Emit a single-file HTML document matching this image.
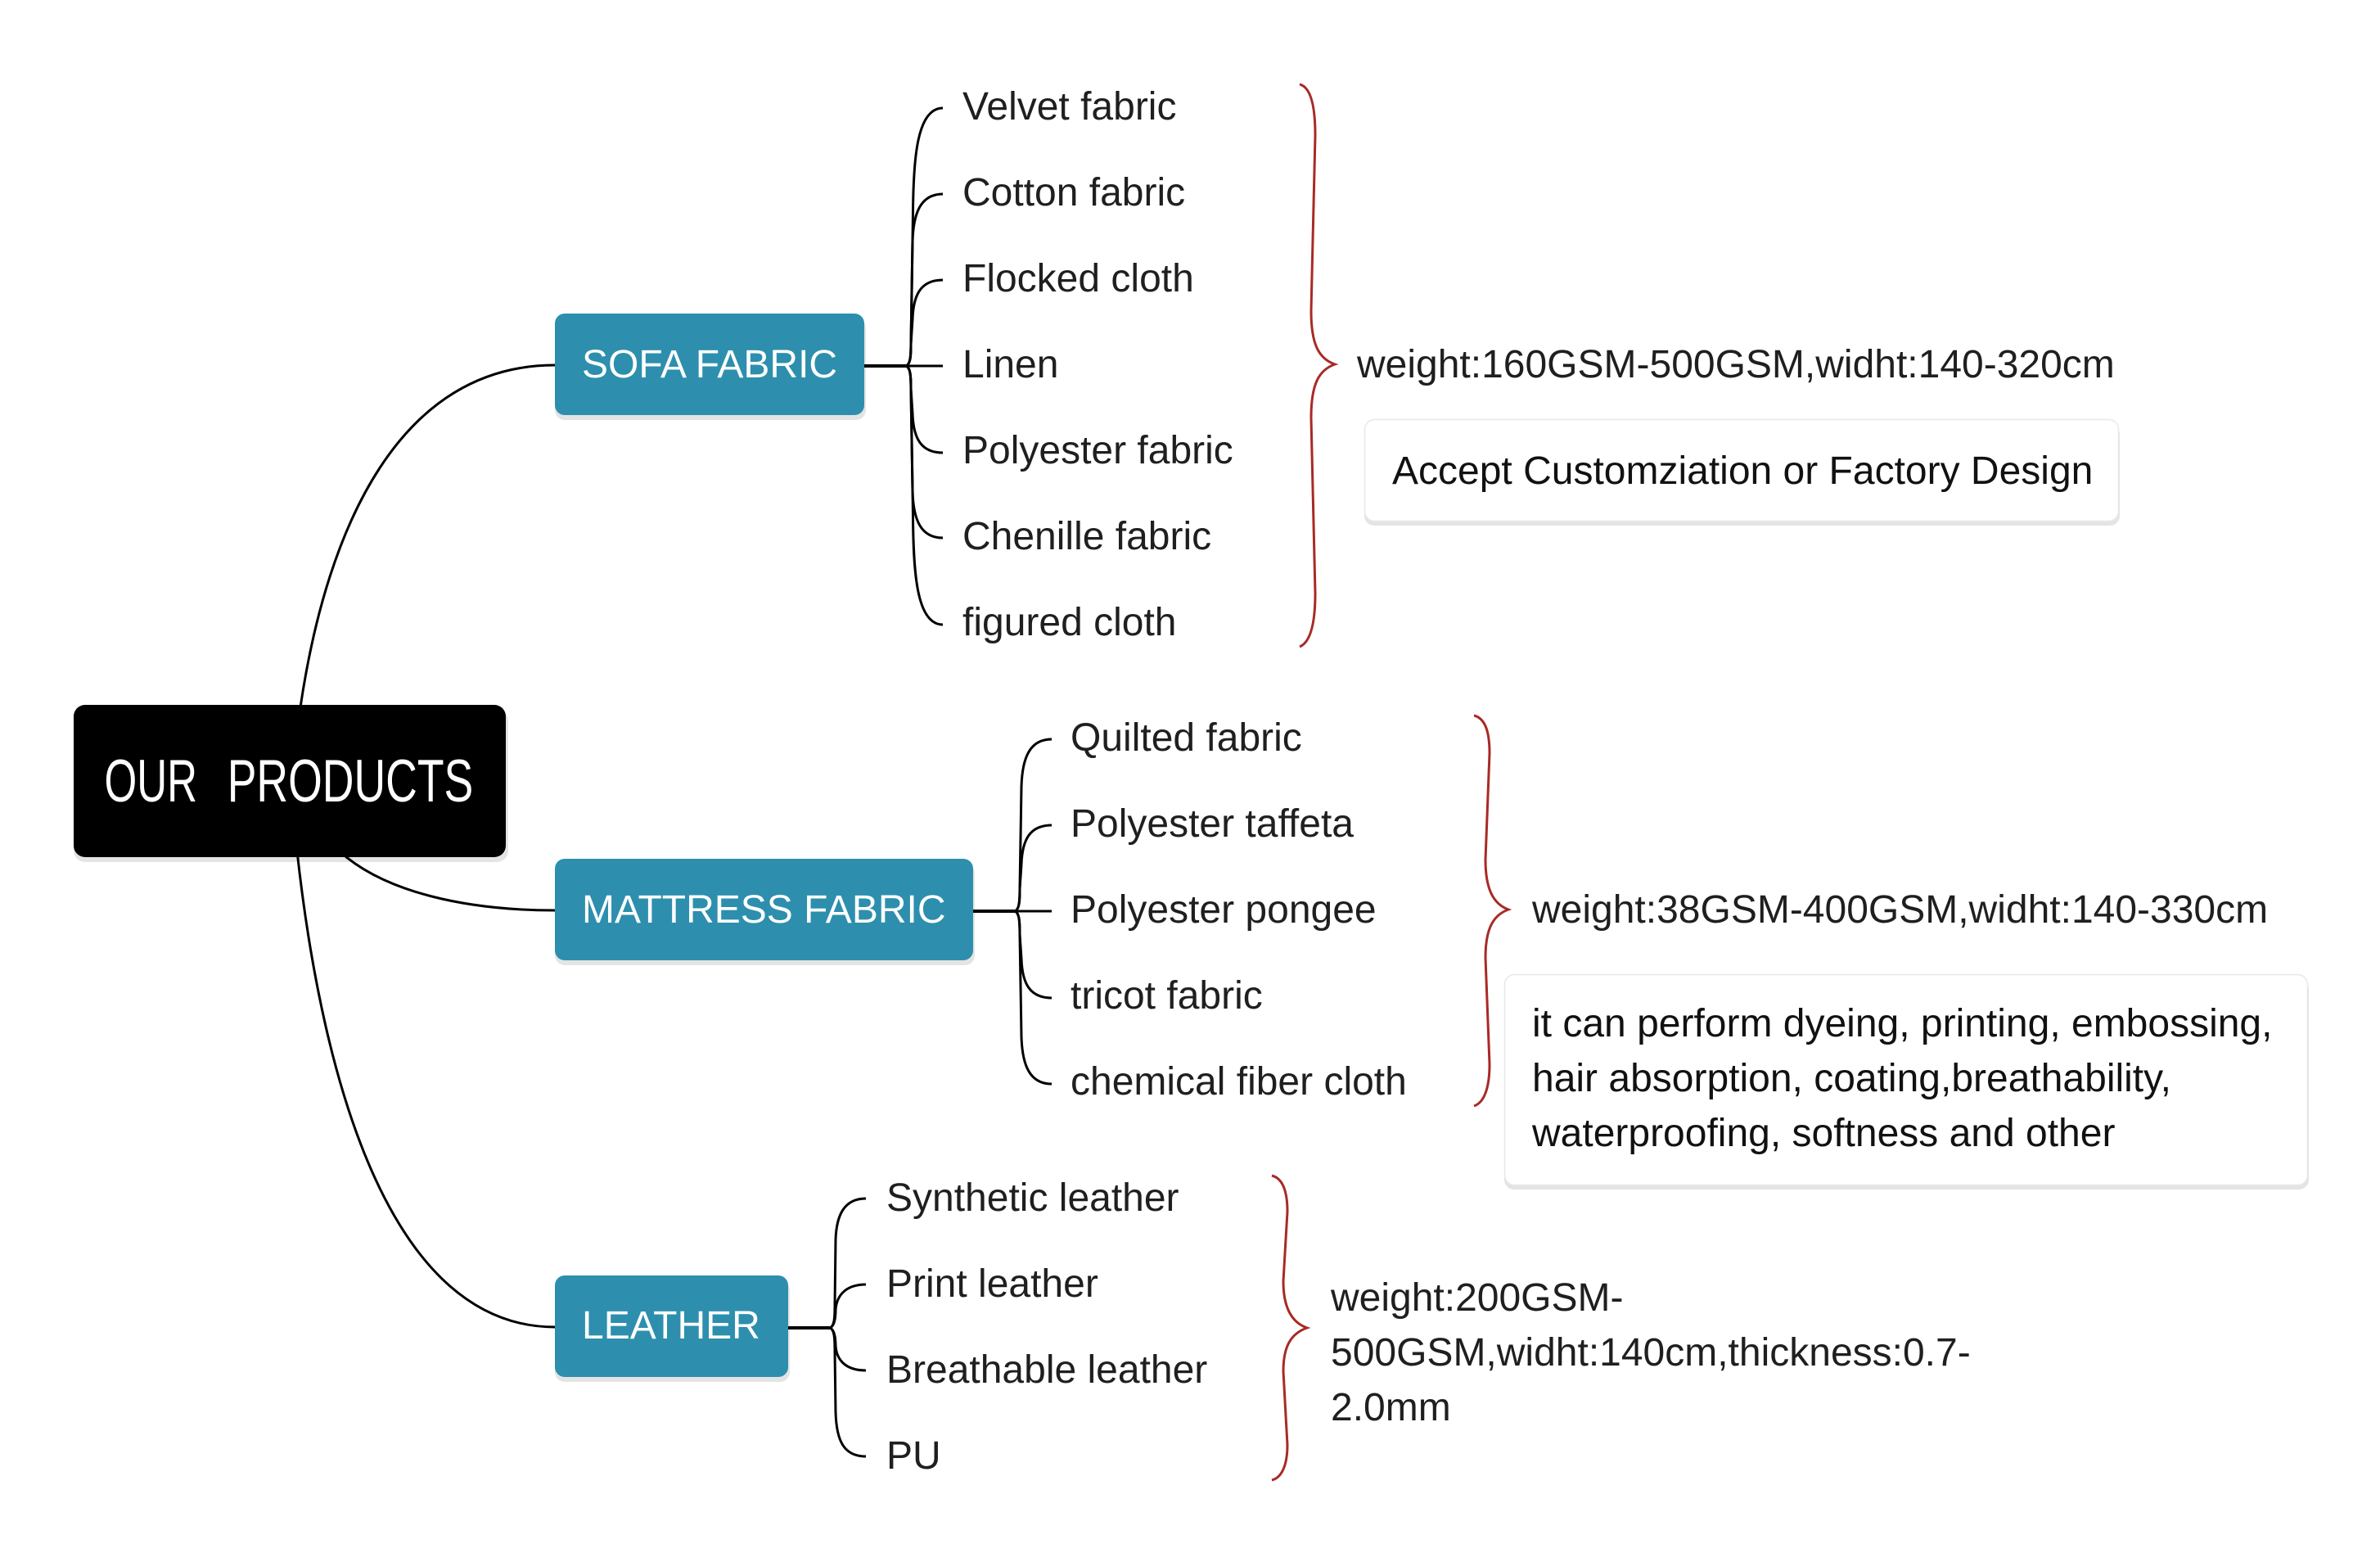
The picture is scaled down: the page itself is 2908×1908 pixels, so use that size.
<!DOCTYPE html>
<html lang="en">
<head>
<meta charset="utf-8">
<title>Our Products</title>
<style>
html,body{margin:0;padding:0;background:#fff}
svg{display:block}
text{font-family:"Liberation Sans",Arial,sans-serif;font-size:48px;fill:#1f1f1f}
.w{fill:#fff}
.c{fill:none;stroke:#000;stroke-width:3}
.s{fill:none;stroke:#000;stroke-width:4}
.r{fill:none;stroke:#a82a26;stroke-width:3}
</style>
</head>
<body>
<svg xmlns="http://www.w3.org/2000/svg" width="2908" height="1908" viewBox="0 0 2908 1908">
<rect width="2908" height="1908" fill="#fff"/>

<!-- root -->
<rect x="90" y="867" width="531" height="186" rx="14" fill="#e4e4e4"/>

<!-- root connectors -->
<path class="c" d="M367 864C400 640 490 446 678 446"/>
<path class="c" d="M415 1040C470 1090 570 1112 678 1112"/>
<path class="c" d="M363 1040C395 1330 480 1621 678 1621"/>

<rect x="90" y="861" width="528" height="186" rx="14" fill="#000"/>
<text class="w" x="127.500" y="979" style="font-size:73px" textLength="113.500" lengthAdjust="spacingAndGlyphs">OUR</text>
<text class="w" x="277.700" y="979" style="font-size:73px" textLength="300.600" lengthAdjust="spacingAndGlyphs">PRODUCTS</text>

<!-- category boxes -->
<rect x="678" y="389" width="380" height="124" rx="12" fill="#e4e4e4"/>
<rect x="678" y="383" width="378" height="124" rx="12" fill="#2d8fad"/>
<text class="w" x="711" y="461">SOFA FABRIC</text>

<rect x="678" y="1055" width="513" height="124" rx="12" fill="#e4e4e4"/>
<rect x="678" y="1049" width="511" height="124" rx="12" fill="#2d8fad"/>
<text class="w" x="711" y="1127">MATTRESS FABRIC</text>

<rect x="678" y="1564" width="287" height="124" rx="12" fill="#e4e4e4"/>
<rect x="678" y="1558" width="285" height="124" rx="12" fill="#2d8fad"/>
<text class="w" x="711" y="1635">LEATHER</text>

<!-- sofa branches -->
<path class="s" d="M1056 447H1107"/>
<path class="c" d="M1107 447H1152"/>
<path class="c" d="M1107 447C1112 445 1113 437 1113 420L1115.500 260C1116 195 1120 132 1152 132"/>
<path class="c" d="M1107 447C1112 445 1113 437 1113 420L1115 295C1116 260 1125 237 1152 237"/>
<path class="c" d="M1107 447C1112 445 1113 437 1113 420L1115 390C1116 360 1125 342 1152 342"/>
<path class="c" d="M1107 447C1112 449 1113 457 1113 475L1115 505C1116 535 1125 553 1152 553"/>
<path class="c" d="M1107 447C1112 449 1113 457 1113 475L1115 600C1116 635 1125 657 1152 657"/>
<path class="c" d="M1107 447C1112 449 1113 457 1113 475L1115.500 630C1116 700 1120 763 1152 763"/>

<text x="1176" y="146">Velvet fabric</text>
<text x="1176" y="251">Cotton fabric</text>
<text x="1176" y="356">Flocked cloth</text>
<text x="1176" y="461">Linen</text>
<text x="1176" y="566">Polyester fabric</text>
<text x="1176" y="671">Chenille fabric</text>
<text x="1176" y="776">figured cloth</text>

<!-- mattress branches -->
<path class="s" d="M1189 1113H1240"/>
<path class="c" d="M1240 1113H1285"/>
<path class="c" d="M1240 1113C1245 1111 1246 1103 1246 1086L1248 961C1249 926 1258 903 1285 903"/>
<path class="c" d="M1240 1113C1245 1111 1246 1103 1246 1086L1248 1056C1249 1026 1258 1008 1285 1008"/>
<path class="c" d="M1240 1113C1245 1115 1246 1123 1246 1141L1248 1171C1249 1201 1258 1219 1285 1219"/>
<path class="c" d="M1240 1113C1245 1115 1246 1123 1246 1141L1248 1266C1249 1301 1258 1324 1285 1324"/>

<text x="1308" y="917">Quilted fabric</text>
<text x="1308" y="1022">Polyester taffeta</text>
<text x="1308" y="1127">Polyester pongee</text>
<text x="1308" y="1232">tricot fabric</text>
<text x="1308" y="1337">chemical fiber cloth</text>

<!-- leather branches -->
<path class="s" d="M963 1622H1014"/>
<path class="c" d="M1014 1622C1019 1620 1020 1612 1020 1595L1021 1514C1022 1485 1031 1464 1058 1464"/>
<path class="c" d="M1014 1622C1019 1620 1021 1612 1021 1600C1022 1585 1031 1569 1058 1569"/>
<path class="c" d="M1014 1622C1019 1624 1021 1632 1021 1644C1022 1659 1031 1674 1058 1674"/>
<path class="c" d="M1014 1622C1019 1624 1020 1632 1020 1650L1021 1725C1022 1760 1031 1779 1058 1779"/>

<text x="1083" y="1479">Synthetic leather</text>
<text x="1083" y="1584">Print leather</text>
<text x="1083" y="1689">Breathable leather</text>
<text x="1083" y="1794">PU</text>

<!-- red braces -->
<path class="r" d="M1588 103C1600 106 1607 125 1607 165L1602 380C1602 420 1611 438 1631 445C1611 452 1602 470 1602 510L1607 725C1607 765 1600 785 1588 790"/>
<path class="r" d="M1801 874C1813 877 1820 890 1820 920L1815 1050C1815 1085 1824 1104 1843 1111C1824 1118 1815 1135 1815 1170L1820 1300C1820 1330 1813 1347 1801 1351"/>
<path class="r" d="M1554 1436C1566 1439 1573 1452 1573 1480L1568 1565C1568 1595 1577 1615 1597 1622C1577 1629 1568 1645 1568 1675L1573 1765C1573 1790 1566 1805 1554 1808"/>

<!-- notes -->
<text x="1658" y="461">weight:160GSM-500GSM,widht:140-320cm</text>

<rect x="1667" y="518" width="923" height="124" rx="12" fill="#e4e4e4"/>
<rect x="1667.500" y="512.500" width="921" height="124" rx="12" fill="#fff" stroke="#e8e8e8" stroke-width="1.5"/>
<text x="1701" y="591" style="fill:#111">Accept Customziation or Factory Design</text>

<text x="1872" y="1127">weight:38GSM-400GSM,widht:140-330cm</text>

<rect x="1838" y="1196" width="983" height="257" rx="12" fill="#e4e4e4"/>
<rect x="1838.500" y="1190.500" width="981" height="257" rx="12" fill="#fff" stroke="#e8e8e8" stroke-width="1.5"/>
<text x="1872" y="1266" style="fill:#111">it can perform dyeing, printing, embossing,</text>
<text x="1872" y="1333" style="fill:#111">hair absorption, coating,breathability,</text>
<text x="1872" y="1400" style="fill:#111">waterproofing, softness and other</text>

<text x="1626" y="1601">weight:200GSM-</text>
<text x="1626" y="1668">500GSM,widht:140cm,thickness:0.7-</text>
<text x="1626" y="1735">2.0mm</text>
</svg>
</body>
</html>
